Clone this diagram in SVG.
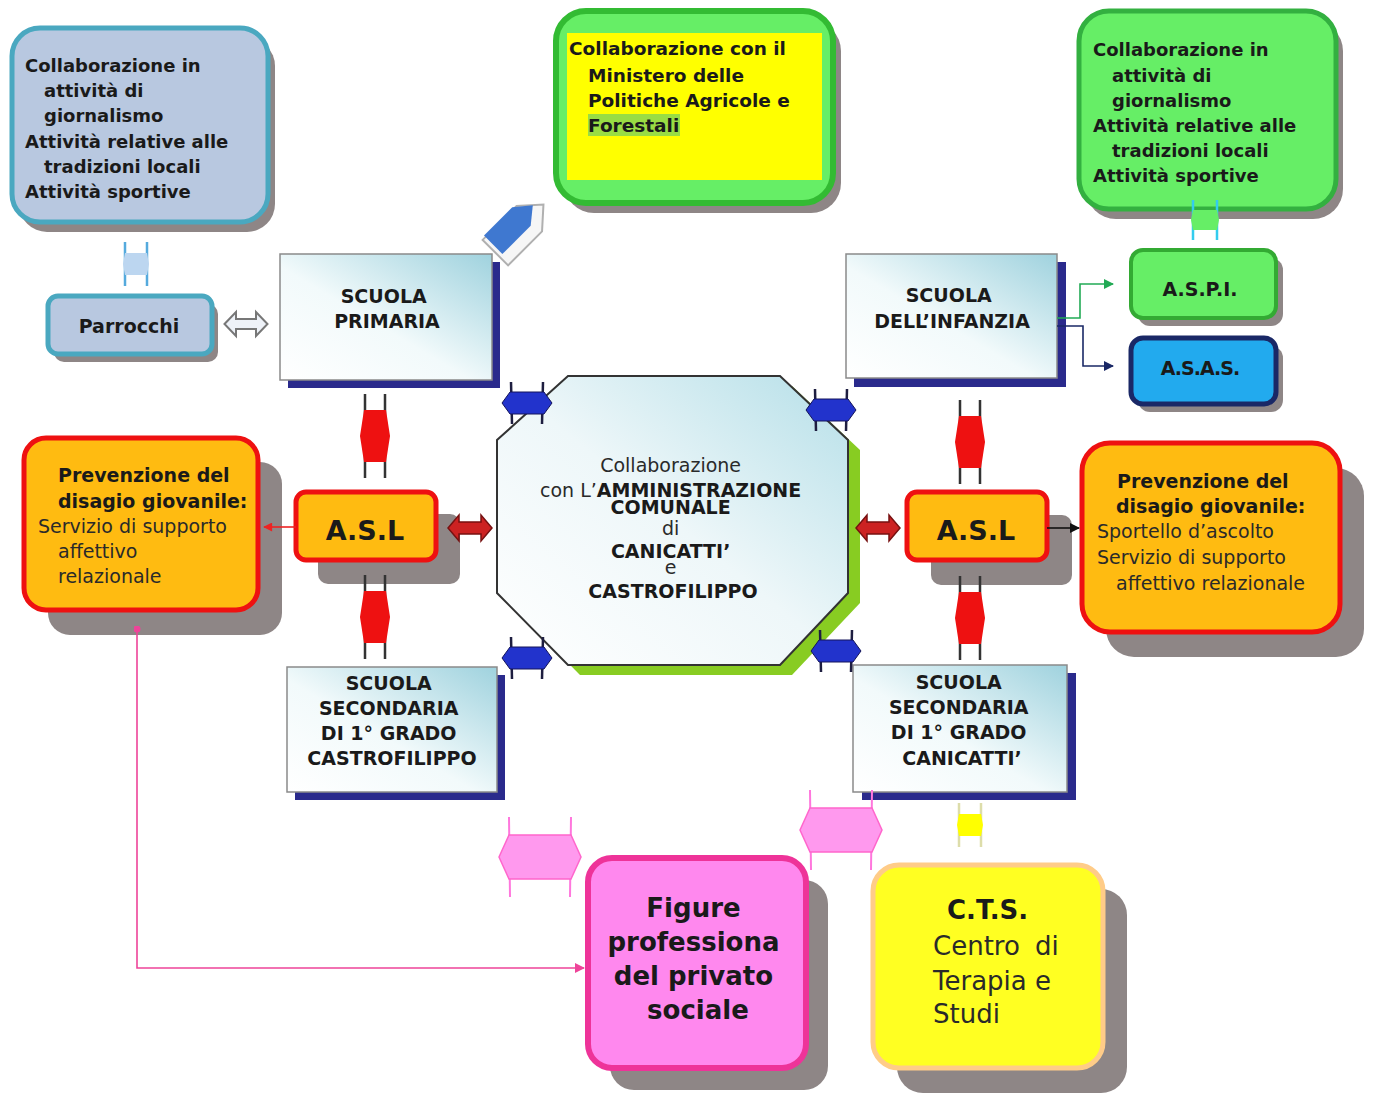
<svg xmlns="http://www.w3.org/2000/svg" width="1376" height="1094" viewBox="0 0 1376 1094">
<defs>
<style>
.b{font-family:"DejaVu Sans",sans-serif;font-weight:bold;fill:#1a1a1a}
.r{font-family:"DejaVu Sans",sans-serif;fill:#2a2a2a}
.sh{fill:#8e8686}
.nv{fill:#2a2a8c}
.school{fill:url(#gSchool);stroke:#8a8a8a;stroke-width:1.5}
.blu{fill:#b8c8e0;stroke:#4aa8c0;stroke-width:5}
.grn{fill:#66ee66;stroke:#33b040;stroke-width:5}
.org{fill:#ffbb11;stroke:#ee1111;stroke-width:5}
.ln{fill:none;stroke-width:1.6}
</style>
<linearGradient id="gSchool" x1="0" y1="1" x2="1" y2="0">
<stop offset="0" stop-color="#ffffff"/>
<stop offset="0.45" stop-color="#f2fafb"/>
<stop offset="1" stop-color="#9fd2de"/>
</linearGradient>
<linearGradient id="gOct" x1="0" y1="1" x2="1" y2="0">
<stop offset="0" stop-color="#ffffff"/>
<stop offset="0.5" stop-color="#eef7f9"/>
<stop offset="1" stop-color="#b5dfe8"/>
</linearGradient>
<marker id="mGreen" viewBox="0 0 10 10" refX="9" refY="5" markerWidth="11" markerHeight="10" markerUnits="userSpaceOnUse" orient="auto"><path d="M0,0 L10,5 L0,10 Z" fill="#22aa55"/></marker>
<marker id="mNavy" viewBox="0 0 10 10" refX="9" refY="5" markerWidth="11" markerHeight="10" markerUnits="userSpaceOnUse" orient="auto"><path d="M0,0 L10,5 L0,10 Z" fill="#1a2866"/></marker>
<marker id="mRed" viewBox="0 0 10 10" refX="9" refY="5" markerWidth="10" markerHeight="9" markerUnits="userSpaceOnUse" orient="auto"><path d="M0,0 L10,5 L0,10 Z" fill="#ee2222"/></marker>
<marker id="mBlack" viewBox="0 0 10 10" refX="9" refY="5" markerWidth="11" markerHeight="10" markerUnits="userSpaceOnUse" orient="auto"><path d="M0,0 L10,5 L0,10 Z" fill="#111"/></marker>
<marker id="mPink" viewBox="0 0 10 10" refX="9" refY="5" markerWidth="12" markerHeight="10" markerUnits="userSpaceOnUse" orient="auto"><path d="M0,0 L10,5 L0,10 Z" fill="#ee4499"/></marker>
<marker id="mDot" viewBox="0 0 10 10" refX="5" refY="5" markerWidth="7" markerHeight="7" markerUnits="userSpaceOnUse"><circle cx="5" cy="5" r="5" fill="#ee4499"/></marker>
<g id="arrBlue">
<path d="M-16,-21 L-15,21 M16,-21 L15,21" fill="none" stroke="#1e1e40" stroke-width="2.5"/>
<path d="M-25,0 L-17,-11 L17,-11 L25,0 L17,11 L-17,11 Z" fill="#2233cc" stroke="#14145a" stroke-width="1"/>
</g>
<g id="arrRedV">
<path d="M-10,-42 V42 M10,-42 V42" fill="none" stroke="#333" stroke-width="2.5"/>
<path d="M-11,-26 L11,-26 L15,0 L11,26 L-11,26 L-15,0 Z" fill="#ee1111"/>
</g>
<path id="arrRedH" d="M-22,0 L-11,-13 L-11,-6 L11,-6 L11,-13 L22,0 L11,13 L11,6 L-11,6 L-11,13 Z" fill="#cc2222" stroke="#771111" stroke-width="1.5"/>
<g id="arrPink">
<path d="M-31,-40 L-30,40 M31,-40 L30,40" fill="none" stroke="#ff77dd" stroke-width="2"/>
<path d="M-41,0 L-31,-22 L31,-22 L41,0 L31,22 L-31,22 Z" fill="#ff99ee" stroke="#ff66cc" stroke-width="1.5"/>
</g>
<path id="arrParr" d="M-21.5,0 L-10,-12 L-10,-5 L10,-5 L10,-12 L21.5,0 L10,12 L10,5 L-10,5 L-10,12 Z" fill="#eef2f8" stroke="#777" stroke-width="2"/>
<g id="arrSmBlue">
<path d="M-11,-22 V22 M11,-22 V22" fill="none" stroke="#55aadd" stroke-width="2.5"/>
<path d="M-11,-11 L11,-11 L13,0 L11,11 L-11,11 L-13,0 Z" fill="#bcd6f0"/>
</g>
<g id="arrSmGreen">
<path d="M-12,-20 V20 M12,-20 V20" fill="none" stroke="#33ccee" stroke-width="2.5"/>
<path d="M-12,-10 L12,-10 L14,0 L12,10 L-12,10 L-14,0 Z" fill="#66ee66"/>
</g>
<g id="arrSmYellow">
<path d="M-11,-22 V22 M11,-22 V22" fill="none" stroke="#ddddaa" stroke-width="2.5"/>
<path d="M-11,-11 L11,-11 L13,0 L11,11 L-11,11 L-13,0 Z" fill="#ffff00"/>
</g>
</defs>

<rect width="1376" height="1094" fill="#ffffff"/>

<!-- Nodes -->
<g id="node-giornalismo-left">
<rect class="sh" x="19" y="38" width="256" height="194" rx="28"/>
<rect class="blu" x="12" y="28" width="256" height="194" rx="28"/>
<text class="b" font-size="18">
<tspan x="25" y="72">Collaborazione in</tspan>
<tspan x="44" y="97">attività di</tspan>
<tspan x="44" y="122">giornalismo</tspan>
<tspan x="25" y="148">Attività relative alle</tspan>
<tspan x="44" y="173">tradizioni locali</tspan>
<tspan x="25" y="198">Attività sportive</tspan>
</text>
</g>

<g id="node-parrocchi">
<rect class="sh" x="54" y="304" width="164" height="58" rx="10"/>
<rect class="blu" x="48" y="296" width="164" height="58" rx="10"/>
<text class="b" font-size="19" x="129" y="333" text-anchor="middle">Parrocchi</text>
</g>

<g id="node-primaria">
<rect class="nv" x="288" y="262" width="212" height="126"/>
<rect class="school" x="280" y="254" width="212" height="126"/>
<text class="b" font-size="19" text-anchor="middle">
<tspan x="387" y="303">SCUOLA</tspan>
<tspan x="387" y="328">PRIMARIA</tspan>
</text>
</g>

<g id="node-ministero">
<rect class="sh" x="564" y="21" width="277" height="192" rx="30"/>
<rect x="556" y="11" width="277" height="192" rx="30" fill="#66ee66" stroke="#33bb33" stroke-width="6"/>
<rect x="567" y="33" width="255" height="147" fill="#ffff00"/>
<rect x="588" y="114" width="92" height="22" fill="#99dd44"/>
<text class="b" font-size="18.5" fill="#222">
<tspan x="569" y="55">Collaborazione con il</tspan>
<tspan x="588" y="82">Ministero delle</tspan>
<tspan x="588" y="107">Politiche Agricole e</tspan>
<tspan x="588" y="132">Forestali</tspan>
</text>
</g>

<g id="node-giornalismo-right">
<rect class="sh" x="1086" y="21" width="257" height="198" rx="30"/>
<rect class="grn" x="1079" y="11" width="257" height="198" rx="30"/>
<text class="b" font-size="18">
<tspan x="1093" y="56">Collaborazione in</tspan>
<tspan x="1112" y="82">attività di</tspan>
<tspan x="1112" y="107">giornalismo</tspan>
<tspan x="1093" y="132">Attività relative alle</tspan>
<tspan x="1112" y="157">tradizioni locali</tspan>
<tspan x="1093" y="182">Attività sportive</tspan>
</text>
</g>

<g id="node-infanzia">
<rect class="nv" x="854" y="262" width="212" height="125"/>
<rect class="school" x="846" y="254" width="211" height="124"/>
<text class="b" font-size="19" text-anchor="middle">
<tspan x="952" y="302">SCUOLA</tspan>
<tspan x="952" y="328">DELL’INFANZIA</tspan>
</text>
</g>

<g id="node-aspi">
<rect class="sh" x="1138" y="258" width="145" height="68" rx="12"/>
<rect x="1131" y="250" width="145" height="68" rx="12" fill="#66ee66" stroke="#33aa33" stroke-width="4"/>
<text class="b" font-size="19" x="1200" y="296" text-anchor="middle">A.S.P.I.</text>
</g>

<g id="node-asas">
<rect class="sh" x="1138" y="346" width="145" height="66" rx="12"/>
<rect x="1131" y="338" width="145" height="66" rx="12" fill="#22aaee" stroke="#1a2866" stroke-width="5"/>
<text class="b" font-size="19" x="1200" y="375" text-anchor="middle" letter-spacing="-1">A.S.A.S.</text>
</g>

<g id="node-comune">
<polygon points="580,386 792,386 860,450 860,603 792,675 580,675 509,603 509,450" fill="#88cc22"/>
<polygon points="568,376 780,376 848,440 848,593 780,665 568,665 497,593 497,440" fill="url(#gOct)" stroke="#333" stroke-width="2"/>
<text font-size="19" text-anchor="middle">
<tspan class="r" x="673" y="472">Collaborazione</tspan>
<tspan class="r" x="673" y="497">con L’<tspan class="b">AMMINISTRAZIONE</tspan></tspan>
<tspan class="b" x="673" y="514">COMUNALE</tspan>
<tspan class="r" x="673" y="535">di</tspan>
<tspan class="b" x="673" y="558">CANICATTI’</tspan>
<tspan class="r" x="673" y="574">e</tspan>
<tspan class="b" x="673" y="598">CASTROFILIPPO</tspan>
</text>
</g>

<g id="node-asl-left">
<rect class="sh" x="318" y="514" width="142" height="70" rx="10"/>
<rect class="org" x="296" y="492" width="140" height="68" rx="10"/>
<text class="b" font-size="27" x="365" y="540" text-anchor="middle">A.S.L</text>
</g>

<g id="node-asl-right">
<rect class="sh" x="931" y="515" width="141" height="70" rx="10"/>
<rect class="org" x="907" y="492" width="140" height="68" rx="10"/>
<text class="b" font-size="27" x="976" y="540" text-anchor="middle">A.S.L</text>
</g>

<g id="node-prevenzione-left">
<rect class="sh" x="48" y="462" width="234" height="173" rx="22"/>
<rect class="org" x="24" y="438" width="234" height="172" rx="22"/>
<text font-size="19">
<tspan class="b" x="58" y="482">Prevenzione del</tspan>
<tspan class="b" x="58" y="508">disagio giovanile:</tspan>
<tspan class="r" x="38" y="533" fill="#4a3a10">Servizio di supporto</tspan>
<tspan class="r" x="58" y="558" fill="#4a3a10">affettivo</tspan>
<tspan class="r" x="58" y="583" fill="#4a3a10">relazionale</tspan>
</text>
</g>

<g id="node-prevenzione-right">
<rect class="sh" x="1106" y="468" width="258" height="189" rx="28"/>
<rect class="org" x="1082" y="443" width="258" height="189" rx="28"/>
<text font-size="19">
<tspan class="b" x="1117" y="488">Prevenzione del</tspan>
<tspan class="b" x="1116" y="513">disagio giovanile:</tspan>
<tspan class="r" x="1097" y="538" fill="#4a3a10">Sportello d’ascolto</tspan>
<tspan class="r" x="1097" y="564" fill="#4a3a10">Servizio di supporto</tspan>
<tspan class="r" x="1116" y="590" fill="#4a3a10">affettivo relazionale</tspan>
</text>
</g>

<g id="node-castrofilippo">
<rect class="nv" x="295" y="675" width="210" height="125"/>
<rect class="school" x="287" y="667" width="210" height="125"/>
<text class="b" font-size="19" text-anchor="middle">
<tspan x="392" y="690">SCUOLA</tspan>
<tspan x="392" y="715">SECONDARIA</tspan>
<tspan x="392" y="740">DI 1° GRADO</tspan>
<tspan x="392" y="765">CASTROFILIPPO</tspan>
</text>
</g>

<g id="node-canicatti">
<rect class="nv" x="862" y="673" width="214" height="127"/>
<rect class="school" x="853" y="665" width="214" height="127"/>
<text class="b" font-size="19" text-anchor="middle">
<tspan x="962" y="689">SCUOLA</tspan>
<tspan x="962" y="714">SECONDARIA</tspan>
<tspan x="962" y="739">DI 1° GRADO</tspan>
<tspan x="962" y="765">CANICATTI’</tspan>
</text>
</g>

<g id="node-figure">
<rect class="sh" x="610" y="880" width="218" height="210" rx="24"/>
<rect x="588" y="858" width="218" height="210" rx="24" fill="#ff88ee" stroke="#ee3399" stroke-width="6"/>
<text class="b" font-size="26" text-anchor="middle" fill="#2a1a2a">
<tspan x="698" y="917">Figure</tspan>
<tspan x="698" y="951">professiona</tspan>
<tspan x="698" y="985">del privato</tspan>
<tspan x="698" y="1019">sociale</tspan>
</text>
</g>

<g id="node-cts">
<rect class="sh" x="897" y="889" width="230" height="204" rx="26"/>
<rect x="873" y="865" width="230" height="203" rx="26" fill="#ffff22" stroke="#ffcc88" stroke-width="5"/>
<text class="b" font-size="26" x="947" y="919">C.T.S.</text>
<text class="r" font-size="26">
<tspan x="933" y="955">Centro</tspan><tspan x="1035" y="955">di</tspan>
<tspan x="933" y="990">Terapia e</tspan>
<tspan x="933" y="1023">Studi</tspan>
</text>
</g>

<!-- Connectors -->
<g id="connectors">
<g id="arrow-ministero">
<polygon points="-32,-18 16,-18 36,0 16,18 -32,18" transform="translate(518,230) rotate(-45)" fill="#f6f6f6" stroke="#b0b0b0" stroke-width="2"/>
<polygon points="-28,-13 12,-13 28,0 12,13 -28,13" transform="translate(513,225) rotate(-45)" fill="#3f78d0"/>
</g>
<use href="#arrSmBlue" transform="translate(136,264)"/>
<use href="#arrParr" transform="translate(246,324)"/>
<use href="#arrSmGreen" transform="translate(1205,220)"/>
<polyline class="ln" points="1057,318 1080,318 1080,284 1113,284" stroke="#22aa55" marker-end="url(#mGreen)"/>
<polyline class="ln" points="1057,326 1083,326 1083,366 1113,366" stroke="#1a2866" marker-end="url(#mNavy)"/>
<use href="#arrBlue" transform="translate(527,403)"/>
<use href="#arrBlue" transform="translate(831,410)"/>
<use href="#arrBlue" transform="translate(527,658)"/>
<use href="#arrBlue" transform="translate(836,651)"/>
<use href="#arrRedV" transform="translate(375,436)"/>
<use href="#arrRedV" transform="translate(375,617)"/>
<use href="#arrRedV" transform="translate(970,442)"/>
<use href="#arrRedV" transform="translate(970,618)"/>
<use href="#arrRedH" transform="translate(470,528)"/>
<use href="#arrRedH" transform="translate(878,528)"/>
<line class="ln" x1="296" y1="527" x2="264" y2="527" stroke="#ee2222" marker-end="url(#mRed)"/>
<line class="ln" x1="1047" y1="528" x2="1079" y2="528" stroke="#111" marker-end="url(#mBlack)"/>
<polyline class="ln" points="137,629 137,968 584,968" stroke="#ee4499" marker-start="url(#mDot)" marker-end="url(#mPink)"/>
<use href="#arrPink" transform="translate(540,857)"/>
<use href="#arrPink" transform="translate(841,830)"/>
<use href="#arrSmYellow" transform="translate(970,825)"/>
</g>
</svg>
